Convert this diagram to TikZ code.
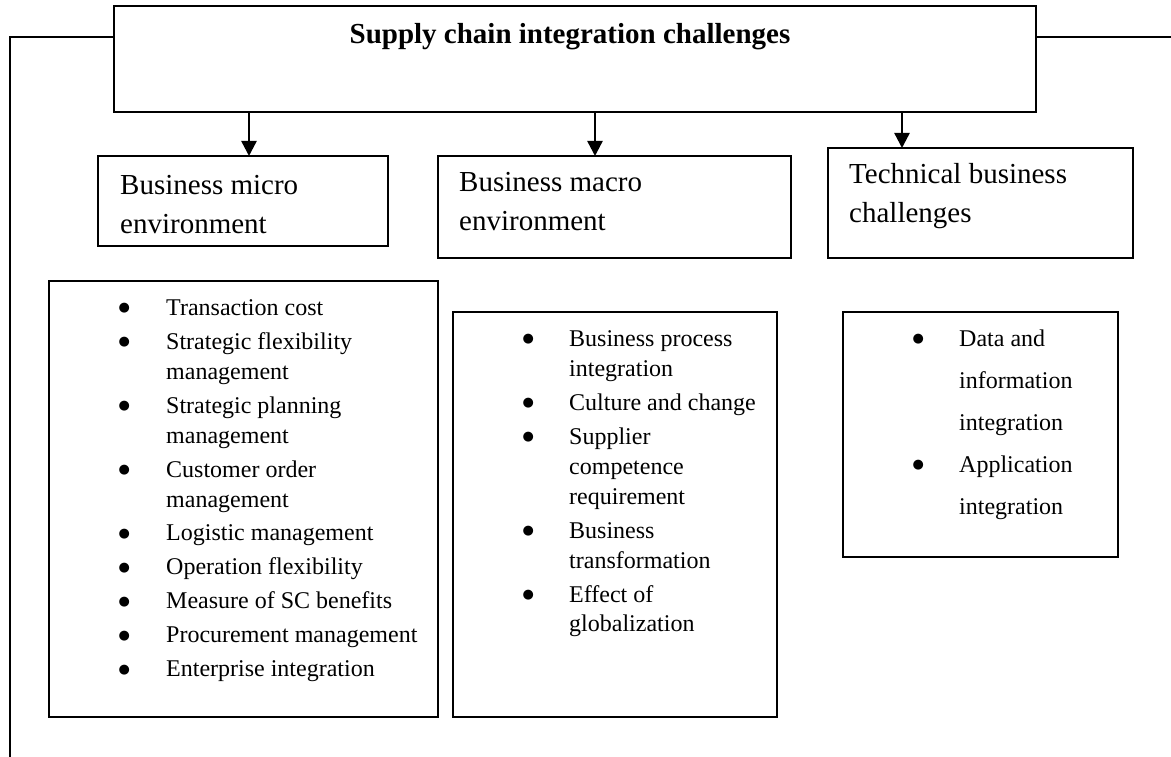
\documentclass[tikz,border=0pt]{standalone}
\usepackage{fontspec}
\setmainfont{Liberation Serif}
\newfontfamily\symfont{DejaVu Sans}
\usetikzlibrary{arrows.meta}
% round list bullet
\newcommand{\blt}{\raisebox{3.5pt}{\fontsize{13}{13}\selectfont\symfont ●}}
\begin{document}
\begin{tikzpicture}[x=1pt,y=-1pt,
  topframe/.style={draw, line width=2.4pt, rectangle, anchor=north west, inner sep=0pt, outer sep=0pt},
  headbox/.style={draw, line width=1.7pt, rectangle, anchor=north west, inner sep=0pt, outer sep=0pt},
  listbox/.style={draw, line width=2.2pt, rectangle, anchor=north west, inner sep=0pt, outer sep=0pt},
  conn/.style={line width=2.4pt},
  arr/.style={line width=2.4pt, -{Triangle[width=15pt,length=15pt]}},
  txt/.style={anchor=base west, inner sep=0pt},
  headtxt/.style={txt, font=\fontsize{29}{39}\selectfont},
  listtxt/.style={txt, font=\fontsize{24}{30}\selectfont},
]
\useasboundingbox (0,0) rectangle (1171,757);

% main heading box
\node[topframe, minimum width=922pt, minimum height=106pt] (top) at (114,6) {};
\node[anchor=base, inner sep=0pt, font=\bfseries\fontsize{29}{35}\selectfont] (title) at (570,44)
  {Supply chain integration challenges};

% side connectors leaving the heading box
\coordinate (leftfoot) at (10,757);
\coordinate (rightend) at (1171,37);
\draw[conn] ([yshift=22pt]top.west) -| (leftfoot);
\draw[conn] ([yshift=22pt]top.east) -- (rightend);

% category boxes
\node[headbox, minimum width=290pt, minimum height=90pt]  (micro) at (98,156) {};
\node[headbox, minimum width=353pt, minimum height=102pt] (macro) at (438,156) {};
\node[headbox, minimum width=305pt, minimum height=110pt] (tech)  at (828,148) {};

\node[headtxt] (microtxt) at (120,195)
  {\begin{tabular}[t]{@{}l@{}}Business micro\\environment\end{tabular}};
\node[headtxt] (macrotxt) at (459,192)
  {\begin{tabular}[t]{@{}l@{}}Business macro\\environment\end{tabular}};
\node[headtxt] (techtxt) at (849,184)
  {\begin{tabular}[t]{@{}l@{}}Technical business\\challenges\end{tabular}};

% arrows from the heading box down to the categories
\draw[arr] ([xshift=151pt]top.south -| micro.north west) -- ([xshift=151pt]micro.north west);
\draw[arr] ([xshift=157pt]top.south -| macro.north west) -- ([xshift=157pt]macro.north west);
\draw[arr] ([xshift=74pt]top.south -| tech.north west) -- ([xshift=74pt]tech.north west);

% lists of challenges
\node[listbox, minimum width=389pt, minimum height=436pt] (microlist) at (49,281) {};
\node[listbox, minimum width=324pt, minimum height=405pt] (macrolist) at (453,312) {};
\node[listbox, minimum width=275pt, minimum height=245pt] (techlist)  at (843,312) {};

\node[listtxt] (microitems) at (118.5,315)
  {\begin{tabular}[t]{@{}p{47.5pt}@{}l@{}}
   \blt & Transaction cost\\[4pt]
   \blt & Strategic flexibility\\
        & management\\[4pt]
   \blt & Strategic planning\\
        & management\\[4pt]
   \blt & Customer order\\
        & management\\[4pt]
   \blt & Logistic management\\[4pt]
   \blt & Operation flexibility\\[4pt]
   \blt & Measure of SC benefits\\[4pt]
   \blt & Procurement management\\[4pt]
   \blt & Enterprise integration
  \end{tabular}};

\node[listtxt] (macroitems) at (522.5,346)
  {\begin{tabular}[t]{@{}p{46.5pt}@{}l@{}}
   \blt & Business process\\
        & integration\\[4pt]
   \blt & Culture and change\\[4pt]
   \blt & Supplier\\
        & competence\\
        & requirement\\[4pt]
   \blt & Business\\
        & transformation\\[4pt]
   \blt & Effect of\\
        & globalization
  \end{tabular}};

\node[txt, font=\fontsize{24}{42}\selectfont] (techitems) at (912.5,346)
  {\begin{tabular}[t]{@{}p{46.5pt}@{}l@{}}
   \blt & Data and\\
        & information\\
        & integration\\
   \blt & Application\\
        & integration
  \end{tabular}};
\end{tikzpicture}
\end{document}
